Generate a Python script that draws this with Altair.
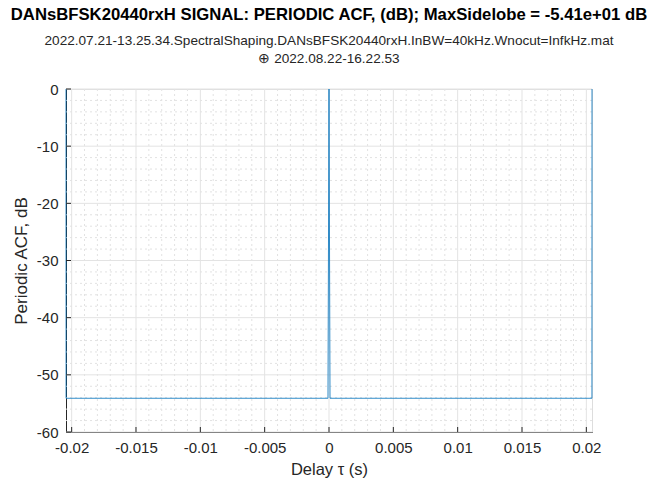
import altair as alt
import pandas as pd

# ---- data ----
delay_s = [-0.02044, -0.020435, -0.00008, 0.0, 0.00008, 0.020435, 0.02044]
acf_db = [0.0, -54.1, -54.1, 0.0, -54.1, -54.1, 0.0]

x_major = [-0.02, -0.015, -0.01, -0.005, 0.0, 0.005, 0.01, 0.015, 0.02]
y_major = [-60, -50, -40, -30, -20, -10, 0]
x_minor = [round(-0.020 + 0.001 * i, 3) for i in range(41)]
x_minor = [v for v in x_minor if round(abs(v) * 1000) % 5 != 0]
y_minor = [v for v in range(-58, 0, 2) if v % 10 != 0]

title_main = "DANsBFSK20440rxH SIGNAL: PERIODIC ACF, (dB); MaxSidelobe = -5.41e+01 dB"
title_sub = [
    "2022.07.21-13.25.34.SpectralShaping.DANsBFSK20440rxH.InBW=40kHz.Wnocut=InfkHz.mat",
    "\u2295 2022.08.22-16.22.53",
]

W, H = 526, 343
FONT = "Liberation Sans"
INK = "#262626"

df = pd.DataFrame({"delay": delay_s, "acf": acf_db})
xs = alt.Scale(domain=[-0.02044, 0.02044], nice=False, zero=False)
ys = alt.Scale(domain=[-60, 0], nice=False, zero=False)

x_axis = alt.Axis(values=x_major, labelExpr="'' + datum.value", grid=False,
                  tickSize=0, labelPadding=8, domainColor=INK, labelColor=INK,
                  labelFont=FONT, labelFontSize=15, title="Delay \u03c4 (s)",
                  titleFont=FONT, titleFontSize=16.5, titleFontWeight="normal",
                  titleColor=INK, titlePadding=6)
y_axis = alt.Axis(values=y_major, labelExpr="'' + datum.value", grid=False,
                  tickSize=0, labelPadding=8, domainColor=INK, labelColor=INK,
                  labelFont=FONT, labelFontSize=15, title="Periodic ACF, dB",
                  titleFont=FONT, titleFontSize=17, titleFontWeight="normal",
                  titleColor=INK, titlePadding=6)

xminor_df = pd.DataFrame({"v": x_minor})
yminor_df = pd.DataFrame({"v": y_minor})
xmajor_df = pd.DataFrame({"v": x_major})
ymajor_df = pd.DataFrame({"v": y_major})

grid_minor_x = alt.Chart(xminor_df).mark_rule(color="#e2e2e2", strokeWidth=1, strokeDash=[2, 3]).encode(
    x=alt.X("v:Q", scale=xs, axis=x_axis))
grid_minor_y = alt.Chart(yminor_df).mark_rule(color="#e2e2e2", strokeWidth=1, strokeDash=[2, 3]).encode(
    y=alt.Y("v:Q", scale=ys, axis=y_axis))
grid_major_x = alt.Chart(xmajor_df).mark_rule(color="#e3e3e3", strokeWidth=1).encode(
    x=alt.X("v:Q", scale=xs, axis=x_axis))
grid_major_y = alt.Chart(ymajor_df).mark_rule(color="#e3e3e3", strokeWidth=1).encode(
    y=alt.Y("v:Q", scale=ys, axis=y_axis))

line = alt.Chart(df).mark_line(color="#0072BD", strokeWidth=1, opacity=0.8).encode(
    x=alt.X("delay:Q", scale=xs, axis=x_axis),
    y=alt.Y("acf:Q", scale=ys, axis=y_axis),
)

ticks_x = alt.Chart(xmajor_df).mark_rule(color=INK, strokeWidth=1).encode(
    x=alt.X("v:Q", scale=xs, axis=x_axis), y=alt.value(H), y2=alt.value(H - 5))
ticks_y = alt.Chart(ymajor_df).mark_rule(color=INK, strokeWidth=1).encode(
    y=alt.Y("v:Q", scale=ys, axis=y_axis), x=alt.value(0), x2=alt.value(5))

chart = alt.layer(
    grid_minor_x, grid_minor_y, grid_major_x, grid_major_y, line, ticks_x, ticks_y
).properties(
    width=W, height=H,
    autosize=alt.AutoSizeParams(type="none"),
    padding={"left": 66, "top": 89, "right": 59, "bottom": 49},
    title=alt.TitleParams(
        text=title_main, subtitle=title_sub, anchor="middle",
        font=FONT, fontSize=16.7, fontWeight="bold", color="#000000",
        subtitleFont=FONT, subtitleFontSize=13.6, subtitleColor=INK,
        subtitleLineHeight=18, subtitlePadding=11, offset=16,
    ),
).configure_view(stroke=None).configure(background="white")

chart.save("out.html", embed_options={"renderer": "svg", "actions": False})
